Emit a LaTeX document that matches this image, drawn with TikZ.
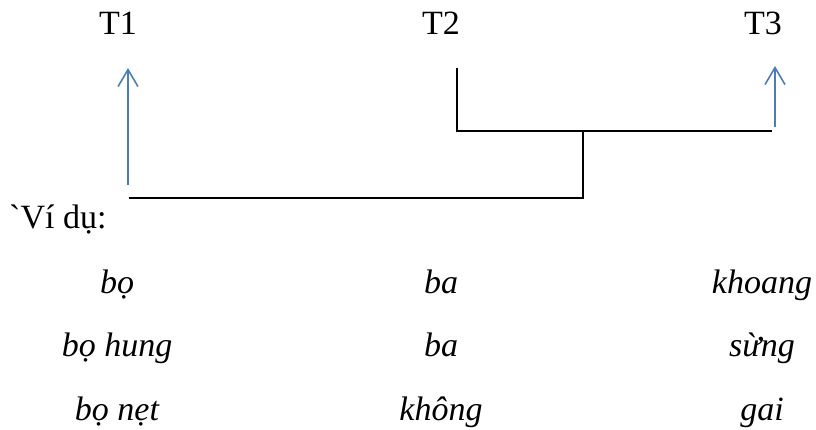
\documentclass[tikz,border=0pt]{standalone}
\usepackage{fontspec}
\setmainfont{Liberation Serif}
\usetikzlibrary{arrows.meta}
\definecolor{arrowblue}{RGB}{74,126,187}
\tikzset{
  lbl/.style={anchor=base,inner sep=0pt,font=\fontsize{34}{40}\selectfont},
  ex/.style={lbl,font=\fontsize{34}{40}\selectfont\itshape},
  uparrow/.style={draw=arrowblue,line width=1.6pt,-{Straight Barb[length=17pt,width=20pt,line width=1.6pt]}},
  tree/.style={draw=black,line width=2.7pt}
}
\begin{document}
\begin{tikzpicture}[x=1pt,y=-1pt]
\useasboundingbox (0,0) rectangle (816,430);
% labels
\node[lbl] (T1) at (118,35) {T1};
\node[lbl] (T2) at (441,35) {T2};
\node[lbl] (T3) at (763,35) {T3};
% connector coordinates
\coordinate (a1b) at (128,185);
\coordinate (a1t) at (128,68);
\coordinate (a3b) at (775,127);
\coordinate (a3t) at (775,66);
\coordinate (t2b) at (457,68);
\coordinate (t3e) at (772,131);
\coordinate (jn) at (583,131);
\coordinate (t1e) at (129,198);
% arrows
\draw[uparrow] (a1b) -- (a1t);
\draw[uparrow] (a3b) -- (a3t);
% tree lines
\draw[tree] (t2b) |- (t3e);
\draw[tree] (jn) |- (t1e);
% example text
\node[lbl,anchor=base west] (vd) at (9,229) {{\addfontfeatures{Ligatures=TeXOff}`}Ví dụ:};
\node[ex] (r1c1) at (117,293) {bọ};
\node[ex] (r1c2) at (441,293) {ba};
\node[ex] (r1c3) at (762,293) {khoang};
\node[ex] (r2c1) at (117,356) {bọ hung};
\node[ex] (r2c2) at (441,356) {ba};
\node[ex] (r2c3) at (762,356) {sừng};
\node[ex] (r3c1) at (117,420) {bọ nẹt};
\node[ex] (r3c2) at (441,420) {không};
\node[ex] (r3c3) at (762,420) {gai};
\end{tikzpicture}
\end{document}
